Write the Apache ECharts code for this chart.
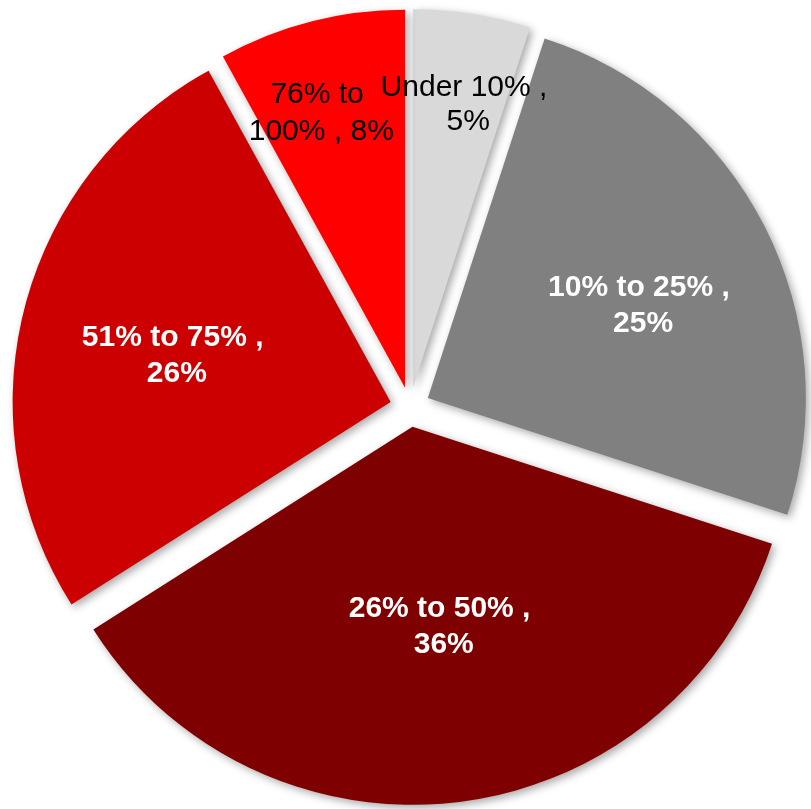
<!DOCTYPE html>
<html>
<head>
<meta charset="utf-8">
<script src="https://cdn.jsdelivr.net/npm/echarts@6/dist/echarts.min.js"></script>
<style>
html,body{margin:0;padding:0;background:#ffffff;}
#chart{width:811px;height:809px;}
</style>
</head>
<body>
<div id="chart"></div>
<script>
// Data
const categories = ['Under 10%', '10% to 25%', '26% to 50%', '51% to 75%', '76% to 100%'];
const shares = [5, 25, 36, 26, 8];

// Styles
const sliceColors = ['#D9D9D9', '#808080', '#7F0000', '#CC0000', '#FF0000'];
const labelColors = ['#000000', '#FFFFFF', '#FFFFFF', '#FFFFFF', '#000000'];
const labelWeights = ['normal', 'bold', 'bold', 'bold', 'normal'];
const labelWidths = [195, 215, 215, 215, 160];
const labelLineHeights = [34, 36, 36, 36, 37];
const labelNudge = [[25, -93], [40, -5], [3, 9], [-32, 1], [-36, -88]];

const chart = echarts.init(document.getElementById('chart'), null, {renderer: 'canvas'});

const data = categories.map((name, i) => ({
  name: name,
  value: shares[i],
  selected: true,
  itemStyle: { color: sliceColors[i] },
  select: { itemStyle: { color: sliceColors[i] } },
  label: {
    color: labelColors[i],
    fontWeight: labelWeights[i],
    width: labelWidths[i],
    lineHeight: labelLineHeights[i]
  }
}));

chart.setOption({
  backgroundColor: '#ffffff',
  animation: false,
  series: [{
    type: 'pie',
    center: [410, 407],
    radius: [0, 378],
    startAngle: 90,
    clockwise: true,
    selectedMode: 'multiple',
    selectedOffset: 20,
    emphasis: { disabled: true },
    itemStyle: {
      shadowBlur: 8,
      shadowOffsetX: 3,
      shadowOffsetY: 3,
      shadowColor: 'rgba(0,0,0,0.35)'
    },
    label: {
      show: true,
      position: 'inside',
      formatter: p => p.name + ' , ' + p.value + '%',
      fontFamily: '"Liberation Sans", Arial, sans-serif',
      fontSize: 30,
      lineHeight: 36,
      overflow: 'break',
      align: 'center'
    },
    labelLine: { show: false },
    labelLayout: function (params) {
      const n = labelNudge[params.dataIndex] || [0, 0];
      return { dx: n[0], dy: n[1] };
    },
    data: data
  }]
});
</script>
</body>
</html>
